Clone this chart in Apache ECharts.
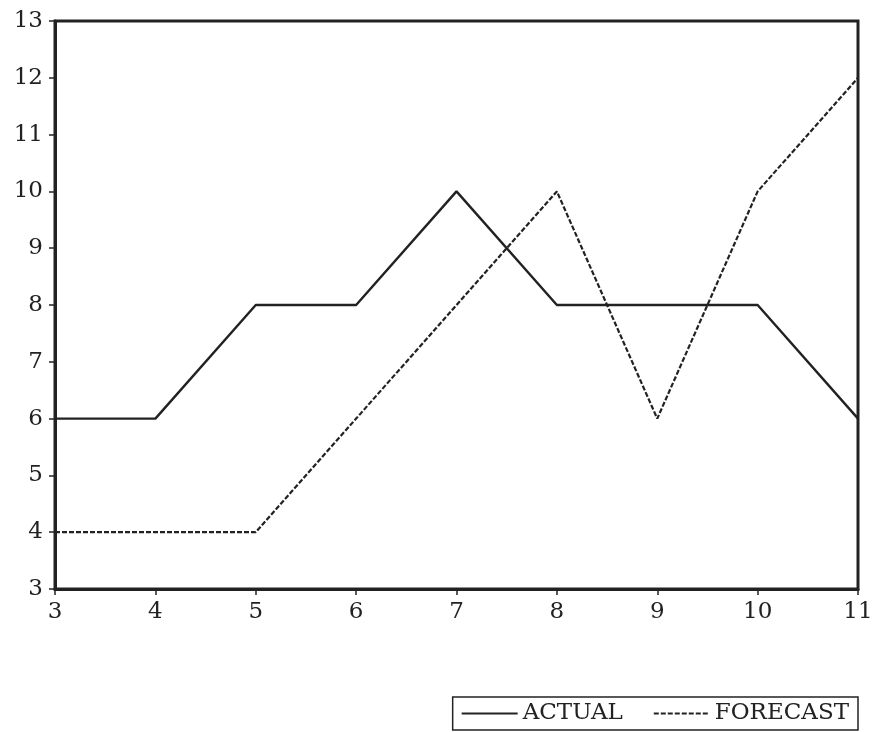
<!DOCTYPE html>
<html><head><meta charset="utf-8">
<script src="https://cdn.jsdelivr.net/npm/echarts@6/dist/echarts.min.js"></script>
<style>html,body{margin:0;padding:0;background:#fff}#c{width:876px;height:732px}</style>
</head><body><div id="c"></div>
<script>
const xValues = [3, 4, 5, 6, 7, 8, 9, 10, 11];
const actual = [6, 6, 8, 8, 10, 8, 8, 8, 6];
const forecast = [4, 4, 4, 6, 8, 10, 6, 10, 12];
const seriesNames = ['ACTUAL', 'FORECAST'];

const chart = echarts.init(document.getElementById('c'));
const font = 'DejaVu Serif';
chart.setOption({
  backgroundColor: '#fff',
  animation: false,
  grid: {left: 55, right: 18, top: 21, bottom: 143},
  xAxis: {
    type: 'value', min: 3, max: 11, interval: 1,
    axisLine: {lineStyle: {color: '#222', width: 3}},
    axisTick: {show: true, length: 6, lineStyle: {color: '#222', width: 1.5}},
    axisLabel: {color: '#222', fontFamily: font, fontSize: 23, margin: 12},
    splitLine: {show: false}
  },
  yAxis: {
    type: 'value', min: 3, max: 13, interval: 1,
    axisLine: {show: true, lineStyle: {color: '#222', width: 3}},
    axisTick: {show: true, length: 6, lineStyle: {color: '#222', width: 1.5}},
    axisLabel: {color: '#222', fontFamily: font, fontSize: 23, margin: 12},
    splitLine: {show: false}
  },
  legend: {
    right: 18, bottom: 2,
    data: seriesNames,
    itemWidth: 56, itemHeight: 14, itemGap: 30,
    padding: [5, 9, 5, 8],
    borderColor: '#222', borderWidth: 1.5, borderRadius: 0,
    itemStyle: {opacity: 0},
    textStyle: {color: '#222', fontFamily: font, fontSize: 23}
  },
  series: [
    {name: seriesNames[0], type: 'line', data: xValues.map((x, i) => [x, actual[i]]),
     symbol: 'none', lineStyle: {color: '#222', width: 2.4}, itemStyle: {color: '#222'}},
    {name: seriesNames[1], type: 'line', data: xValues.map((x, i) => [x, forecast[i]]),
     symbol: 'none', lineStyle: {color: '#222', width: 2.2, type: [5, 2]}, itemStyle: {color: '#222'}}
  ],
  graphic: [
    {type: 'rect', shape: {x: 55, y: 21, width: 803, height: 568}, style: {fill: 'none', stroke: '#222', lineWidth: 3}, silent: true}
  ]
});
</script></body></html>
